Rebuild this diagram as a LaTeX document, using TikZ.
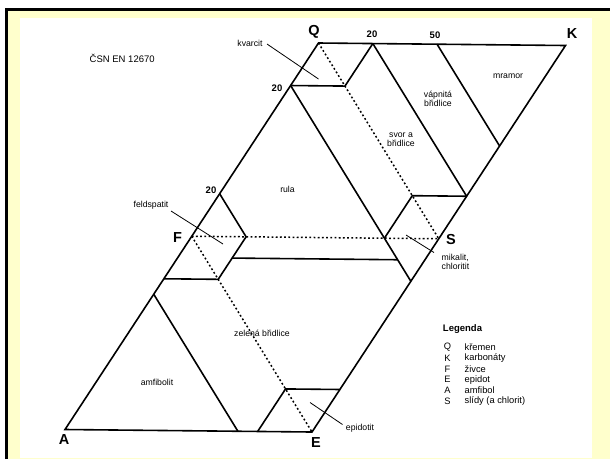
\documentclass[tikz,border=0pt]{standalone}
\usepackage{fontspec}
\setmainfont{Liberation Sans}
\usetikzlibrary{calc}
\definecolor{bgyellow}{RGB}{255,255,204}
\begin{document}
\begin{tikzpicture}[x=1pt,y=-1pt,
  edge/.style={line width=1.6pt, line join=miter, line cap=butt},
  dotline/.style={line width=1.5pt, dash pattern=on 1.8pt off 2.4pt},
  leader/.style={line width=0.8pt},
  vlabel/.style={font=\fontsize{14.5}{14.5}\selectfont\bfseries, inner sep=0pt},
  ticklabel/.style={font=\fontsize{9.5}{9.5}\selectfont\bfseries, inner sep=0pt},
  region/.style={font=\fontsize{8.7}{8.8}\selectfont, inner sep=0pt, align=center},
  legtext/.style={font=\fontsize{9.3}{9.3}\selectfont, inner sep=0pt},
]
% frame
\useasboundingbox (0,0) rectangle (610,459);
\fill[white] (0,0) rectangle (610,459);
\fill[bgyellow] (5,8) rectangle (609.5,459);
\draw[line width=2.5pt] (6.25,459) -- (6.25,9.25) -- (609.5,9.25);
\fill[white] (20,18) rectangle (592,457.7);

% main vertices
\coordinate (A) at (65,429.5);
\coordinate (E) at (312,432);
\coordinate (Q) at (318.5,43);
\coordinate (u) at ($(E)-(A)$);
\coordinate (w) at ($0.5*(Q)-0.5*(A)$);
\coordinate (F) at ($(A)+(w)$);
\coordinate (S) at ($(A)+(u)+(w)$);
\coordinate (K) at ($(A)+(u)+2*(w)$);
% internal points (lattice i,j)
\coordinate (P1) at ($(A)+0.22*(u)+2*(w)$);
\coordinate (P2) at ($(A)+1.78*(w)$);
\coordinate (P3) at ($(A)+0.22*(u)+1.78*(w)$);
\coordinate (P4) at ($(A)+(u)+1.22*(w)$);
\coordinate (P5) at ($(A)+0.48*(u)+2*(w)$);
\coordinate (P6) at ($(A)+(u)+1.48*(w)$);
\coordinate (P7) at ($(A)+0.78*(u)+(w)$);
\coordinate (P8) at ($(A)+(u)+0.78*(w)$);
\coordinate (P9) at ($(A)+0.78*(u)+1.22*(w)$);
\coordinate (P10) at ($(A)+1.22*(w)$);
\coordinate (P11) at ($(A)+0.22*(u)+(w)$);
\coordinate (P12) at ($(A)+0.22*(u)+0.78*(w)$);
\coordinate (P13) at ($(A)+0.78*(w)$);
\coordinate (P14) at ($(A)+0.22*(u)+0.89*(w)$);
\coordinate (P15) at ($(A)+0.89*(u)+0.89*(w)$);
\coordinate (P16) at ($(A)+0.7*(w)$);
\coordinate (P17) at ($(A)+0.7*(u)$);
\coordinate (P18) at ($(A)+(u)+0.22*(w)$);
\coordinate (P19) at ($(A)+0.78*(u)+0.22*(w)$);
\coordinate (P20) at ($(A)+0.78*(u)$);

% dotted lines
\draw[dotline] (F) -- (S);
\draw[dotline] (Q) -- (S);
\draw[dotline] (F) -- (E);

% solid lines
\draw[edge] (A) -- (Q) -- (K) -- (E) -- cycle;
\draw[edge] (P2) -- (P3) -- (P1);
\draw[edge] (P1) -- (P4);
\draw[edge] (P5) -- (P6);
\draw[edge] (P2) -- (P8);
\draw[edge] (P7) -- (P9) -- (P4);
\draw[edge] (P10) -- (P11) -- (P12) -- (P13);
\draw[edge] (P14) -- (P15);
\draw[edge] (P16) -- (P17);
\draw[edge] (P18) -- (P19) -- (P20);

% vertex labels
\node[vlabel] (lQ) at (314,31.5) {Q};
\node[vlabel] (lK) at (572,34) {K};
\node[vlabel] (lF) at (177.5,238) {F};
\node[vlabel] (lS) at (451,240) {S};
\node[vlabel] (lA) at (64,440) {A};
\node[vlabel] (lE) at (316,443) {E};
% tick labels
\node[ticklabel] (t1) at (372,34) {20};
\node[ticklabel] (t2) at (435,35.5) {50};
\node[ticklabel] (t3) at (277,88) {20};
\node[ticklabel] (t4) at (211,190) {20};

% title
\node[font=\fontsize{9.5}{9.5}\selectfont, inner sep=0pt, anchor=west] (title) at (89.5,58) {ČSN EN 12670};

% region labels
\node[region] (kv) at (250,43) {kvarcit};
\node[region] (ru) at (287.5,189) {rula};
\node[region] (sv) at (401,139.5) {svor a\\břidlice};
\node[region] (vp) at (438,98.5) {vápnitá\\břidlice};
\node[region] (mr) at (508,76.5) {mramor};
\node[region] (fe) at (151,205) {feldspatit};
\node[region, align=left, anchor=west] (mi) at (441.5,261.5) {mikalit,\\chloritit};
\node[region] (ze) at (262,333) {zelená břidlice};
\node[region] (am) at (157,382) {amfibolit};
\node[region] (ep) at (360,428.5) {epidotit};

% leader lines
\coordinate (kvA) at (267,44);   \coordinate (kvB) at (318.5,79);
\coordinate (feA) at (171,211);  \coordinate (feB) at (223,244);
\coordinate (miA) at (406,235);  \coordinate (miB) at (434,252.5);
\coordinate (epA) at (310,402.5);\coordinate (epB) at (342.5,424.5);
\draw[leader] (kvA) -- (kvB);
\draw[leader] (feA) -- (feB);
\draw[leader] (miA) -- (miB);
\draw[leader] (epA) -- (epB);

% legend
\node[font=\fontsize{9.5}{9.5}\selectfont\bfseries, inner sep=0pt] (leg) at (462.5,329.5) {Legenda};
\foreach \k/\name [count=\n from 0] in {Q/křemen, K/karbonáty, F/živce, E/epidot, A/amfibol, S/slídy (a chlorit)}{
  \node[legtext] (lk\n) at (447.5,{347+10.9*\n}) {\k};
  \node[legtext, anchor=west] (ln\n) at (464.5,{347+10.9*\n}) {\name};
}
\end{tikzpicture}
\end{document}
